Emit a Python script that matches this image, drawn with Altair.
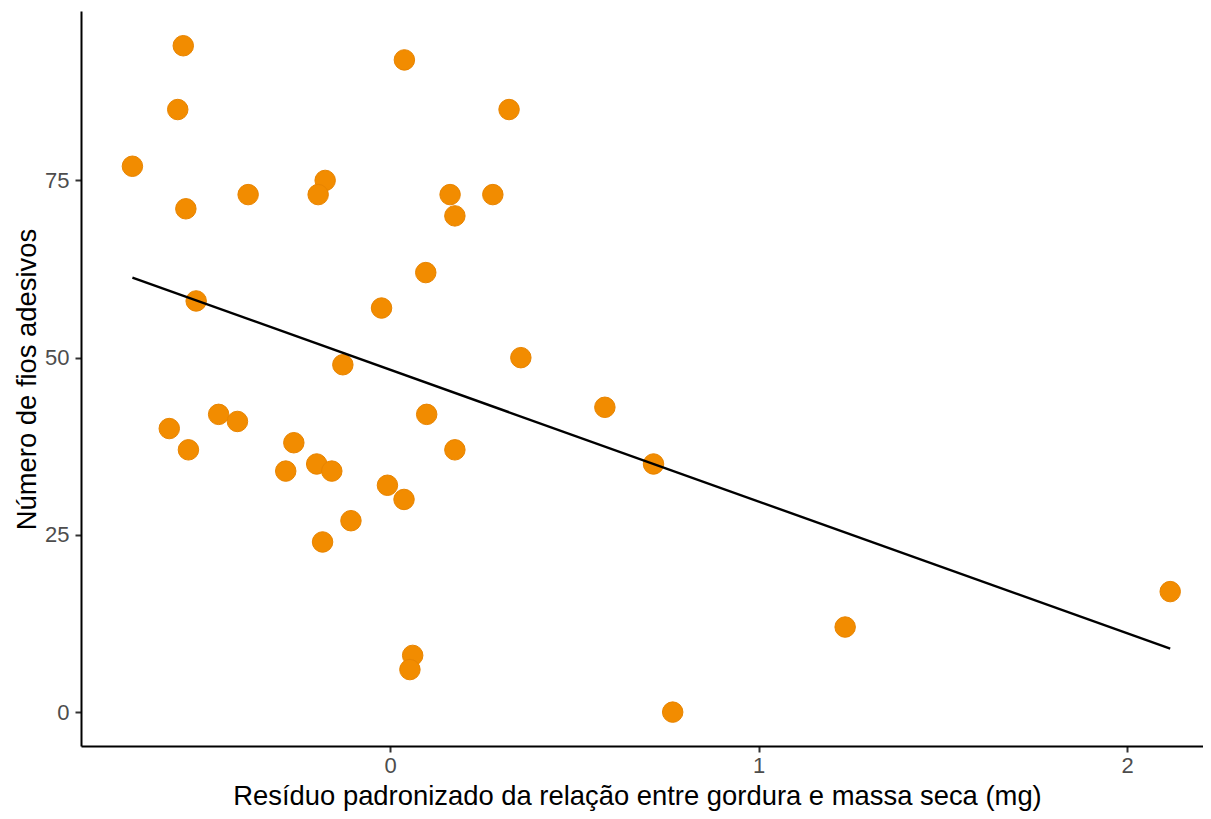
import altair as alt
import pandas as pd

# Standardised residual (fat vs dry mass) and number of adhesive threads
residuo = [
    -0.561, -0.576, -0.699, -0.554, -0.385, -0.526,
    -0.599, -0.547, -0.465, -0.414, -0.261, -0.283, -0.199, -0.158, -0.106, -0.183,
    -0.176, -0.195, 0.163, 0.176, 0.279, 0.097, -0.023, -0.128, 0.355,
    0.0995, 0.176, -0.007, 0.038, 0.0615, 0.054,
    0.039, 0.323,
    0.583, 0.715, 0.767,
    1.235, 2.117,
]
fios = [
    94, 85, 77, 71, 73, 58,
    40, 37, 42, 41, 38, 34, 35, 34, 27, 24,
    75, 73, 73, 70, 73, 62, 57, 49, 50,
    42, 37, 32, 30, 8, 6,
    92, 85,
    43, 35, 0,
    12, 17,
]
x_ticks = [0, 1, 2]
y_ticks = [0, 25, 50, 75]

df = pd.DataFrame({"x": residuo, "y": fios})

FONT = "Liberation Sans"

x_enc = alt.X(
    "x:Q",
    scale=alt.Scale(domain=[-0.8385, 2.206], nice=False, zero=False),
    axis=alt.Axis(
        values=x_ticks,
        format="d",
        title="Resíduo padronizado da relação entre gordura e massa seca (mg)",
        titleX=556,
        titleY=58,
        titleAlign="center",
        titleBaseline="alphabetic",
        labelPadding=3,
    ),
)
y_enc = alt.Y(
    "y:Q",
    scale=alt.Scale(domain=[-4.78, 98.9], nice=False, zero=False),
    axis=alt.Axis(
        values=y_ticks,
        format="d",
        title="Número de fios adesivos",
        titleX=-46,
        titleY=368,
        titleAngle=270,
        titleAlign="center",
        titleBaseline="alphabetic",
        labelPadding=6,
    ),
)

points = alt.Chart(df).mark_circle(
    size=420, color="#F28C00", opacity=1, stroke="#E88400", strokeWidth=1
).encode(x=x_enc, y=y_enc)

line = (
    alt.Chart(df)
    .transform_regression("x", "y")
    .mark_line(color="black", strokeWidth=2.4)
    .encode(x="x:Q", y="y:Q")
)

chart = (
    alt.layer(points, line)
    .properties(
        width=1122,
        height=735,
        autosize=alt.AutoSizeParams(type="none"),
        padding={"left": 73, "top": 3, "right": 0, "bottom": 65},
        background="white",
    )
    .configure_view(stroke=None)
    .configure_axis(
        grid=False,
        domainColor="black",
        domainWidth=2,
        tickColor="#333333",
        tickWidth=2,
        tickSize=6,
        labelFont=FONT,
        labelFontSize=22,
        labelColor="#4D4D4D",
        titleFont=FONT,
        titleFontSize=27.4,
        titleFontWeight="normal",
        titleColor="black",
    )
)

chart.save("out.html", embed_options={"renderer": "svg", "actions": False})
